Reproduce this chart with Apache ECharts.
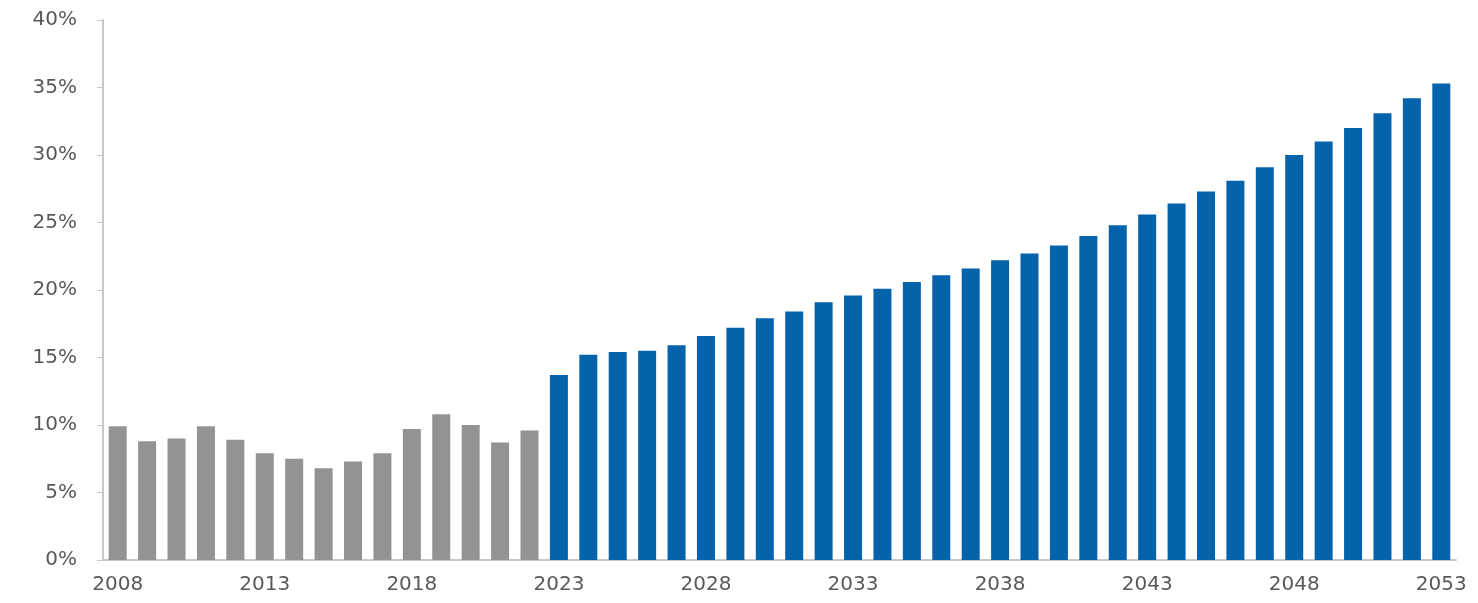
<!DOCTYPE html>
<html>
<head>
<meta charset="utf-8">
<script src="https://cdn.jsdelivr.net/npm/echarts@6/dist/echarts.min.js"></script>
<style>
  html, body { margin: 0; padding: 0; background: #fff; }
  #chart { width: 1478px; height: 603px; }
</style>
</head>
<body>
<div id="chart"></div>
<script>
// 年份 2008 - 2053
const years = []
for (let y = 2008; y <= 2053; y++) years.push(String(y))

// 历史值 2008-2022 (灰色)
const histValues = [9.9, 8.8, 9.0, 9.9, 8.9, 7.9, 7.5, 6.8, 7.3, 7.9, 9.7, 10.8, 10.0, 8.7, 9.6]
// 预测值 2023-2053 (蓝色)
const projValues = [13.7, 15.2, 15.4, 15.5, 15.9, 16.6, 17.2, 17.9, 18.4, 19.1, 19.6, 20.1, 20.6, 21.1, 21.6,
  22.2, 22.7, 23.3, 24.0, 24.8, 25.6, 26.4, 27.3, 28.1, 29.1, 30.0, 31.0, 32.0, 33.1, 34.2, 35.3]

const histSeries = years.map((y, i) => i < histValues.length ? histValues[i] : '-')
const projSeries = years.map((y, i) => i < histValues.length ? '-' : projValues[i - histValues.length])

const chart = echarts.init(document.getElementById('chart'))
chart.setOption({
  animation: false,
  textStyle: { fontFamily: 'DejaVu Sans' },
  grid: { left: 103, right: 22, top: 20, bottom: 43 },
  xAxis: {
    type: 'category',
    data: years,
    axisLine: { lineStyle: { color: '#c8c8c8', width: 2 } },
    axisTick: { show: false },
    axisLabel: { interval: 4, color: '#595959', fontSize: 20, margin: 15 }
  },
  yAxis: {
    type: 'value',
    min: 0,
    max: 40,
    interval: 5,
    splitLine: { show: false },
    axisLine: { show: true, lineStyle: { color: '#c8c8c8', width: 2 } },
    axisTick: { show: true, length: 6, lineStyle: { color: '#c8c8c8' } },
    axisLabel: { color: '#595959', fontSize: 20, margin: 26, formatter: '{value}%' }
  },
  series: [
    {
      name: 'history',
      type: 'bar',
      stack: 'all',
      barWidth: 18,
      itemStyle: { color: '#939393' },
      data: histSeries
    },
    {
      name: 'projection',
      type: 'bar',
      stack: 'all',
      barWidth: 18,
      itemStyle: { color: '#0563ab' },
      data: projSeries
    }
  ]
})
</script>
</body>
</html>
